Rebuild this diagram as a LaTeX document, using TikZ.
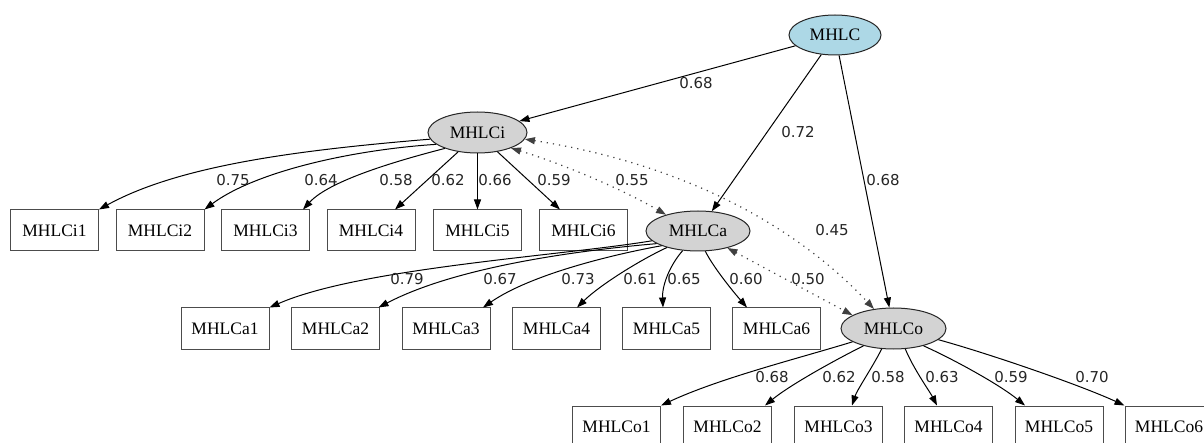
\documentclass[tikz,border=0pt]{standalone}
\usepackage{fontspec}
\setmainfont{Liberation Serif}
\newfontfamily\lblfont{DejaVu Sans}
\usetikzlibrary{arrows.meta,calc,shapes.geometric}
\definecolor{latentgray}{RGB}{211,211,211}
\definecolor{rootblue}{RGB}{173,216,230}

\begin{document}
\begin{tikzpicture}[x=1pt,y=-1pt,
  latent/.style={ellipse, draw=black!85, line width=1pt, fill=latentgray,
    inner sep=0pt, font=\fontsize{17.5}{20}\selectfont},
  root/.style={latent, fill=rootblue},
  item/.style={rectangle, draw=black!70, line width=1pt, fill=white,
    minimum width=88pt, minimum height=41pt, inner sep=0pt,
    font=\fontsize{17.5}{20}\selectfont},
  lbl/.style={font=\lblfont\fontsize{15}{18}\selectfont, text=black!85, inner sep=0pt},
  load/.style={draw=black, line width=1pt, -{Triangle[length=10pt,width=7pt]}},
  cov/.style={draw=black!75, line width=1.2pt, dash pattern=on 1.2pt off 5pt,
    {Triangle[length=10pt,width=7pt]}-{Triangle[length=10pt,width=7pt]}}
]
\useasboundingbox (0,0) rectangle (1204,443);
\clip (0,0) rectangle (1204,443);
\fill[white] (0,0) rectangle (1204,443);

% latent factors
\node[root,   minimum width=92pt,  minimum height=40pt] (MHLC)  at (835,35)      {MHLC};
\node[latent, minimum width=99pt,  minimum height=41pt] (MHLCi) at (477.5,132.5) {MHLCi};
\node[latent, minimum width=104pt, minimum height=40pt] (MHLCa) at (698,231)     {MHLCa};
\node[latent, minimum width=105pt, minimum height=41pt] (MHLCo) at (893.5,328.5) {MHLCo};

% indicators of MHLCi
\begin{scope}[every node/.append style={minimum width=86pt}]
\node[item] (MHLCi1) at (54.5,230.5)  {MHLCi1};
\node[item] (MHLCi2) at (160,230.5)   {MHLCi2};
\node[item] (MHLCi3) at (265.5,230.5) {MHLCi3};
\node[item] (MHLCi4) at (371,230.5)   {MHLCi4};
\node[item] (MHLCi5) at (477.5,230.5) {MHLCi5};
\node[item] (MHLCi6) at (583.5,230.5) {MHLCi6};
\end{scope}

% indicators of MHLCa
\begin{scope}[every node/.append style={minimum width=90pt}]
\node[item] (MHLCa1) at (225,328.5)   {MHLCa1};
\node[item] (MHLCa2) at (335.5,328.5) {MHLCa2};
\node[item] (MHLCa3) at (446,328.5)   {MHLCa3};
\node[item] (MHLCa4) at (556.5,328.5) {MHLCa4};
\node[item] (MHLCa5) at (666.5,328.5) {MHLCa5};
\node[item] (MHLCa6) at (776.5,328.5) {MHLCa6};
\end{scope}

% indicators of MHLCo
\begin{scope}[every node/.append style={minimum width=89pt}]
\node[item] (MHLCo1) at (616.5,426.5) {MHLCo1};
\node[item] (MHLCo2) at (727.5,426.5) {MHLCo2};
\node[item] (MHLCo3) at (838.5,426.5) {MHLCo3};
\node[item] (MHLCo4) at (948.5,426.5) {MHLCo4};
\node[item] (MHLCo5) at (1059,426.5)  {MHLCo5};
\node[item] (MHLCo6) at (1169,426.5)  {MHLCo6};
\end{scope}

% second-order loadings
\draw[load] (MHLC) -- (MHLCi);
\draw[load] (MHLC) -- (MHLCa);
\draw[load] (MHLC) -- (MHLCo);

% MHLCi loadings
\draw[load] (MHLCi.188) .. controls (300,150) and (180,165) .. (MHLCi1.north east);
\draw[load] (MHLCi.196) .. controls (350,150) and (255,172) .. (MHLCi2.north east);
\draw[load] (MHLCi.206) .. controls (400,160) and (330,180) .. ([xshift=37.5pt]MHLCi3.north);
\draw[load] (MHLCi.225) -- ([xshift=24pt]MHLCi4.north);
\draw[load] (MHLCi.south) -- (MHLCi5.north);
\draw[load] (MHLCi.316) -- ([xshift=-23.5pt]MHLCi6.north);

% MHLCa loadings
\draw[load] (MHLCa.192) .. controls (560,256) and (360,268) .. (MHLCa1.north east);
\draw[load] (MHLCa.197) .. controls (560,252) and (450,270) .. ([xshift=43pt]MHLCa2.north);
\draw[load] (MHLCa.202) .. controls (610,255) and (530,275) .. ([xshift=37pt]MHLCa3.north);
\draw[load] (MHLCa.208) .. controls (640,260) and (600,285) .. ([xshift=20.5pt]MHLCa4.north);
\draw[load] (MHLCa.232) .. controls (670,265) and (662,285) .. ([xshift=-3.5pt]MHLCa5.north);
\draw[load] (MHLCa.290) .. controls (712,265) and (730,288) .. ([xshift=-29.5pt]MHLCa6.north);

% MHLCo loadings
\draw[load] (MHLCo.198) .. controls (800,358) and (720,378) .. (MHLCo1.north east);
\draw[load] (MHLCo.210) .. controls (835,360) and (790,385) .. ([xshift=37.5pt]MHLCo2.north);
\draw[load] (MHLCo.240) .. controls (872,368) and (857,390) .. ([xshift=13.5pt]MHLCo3.north);
\draw[load] (MHLCo.300) .. controls (913,368) and (930,392) .. ([xshift=-11.5pt]MHLCo4.north);
\draw[load] (MHLCo.330) .. controls (955,360) and (1000,385) .. ([xshift=-34pt]MHLCo5.north);
\draw[load] (MHLCo.346) .. controls (990,354) and (1080,385) .. (MHLCo6.north west);

% factor covariances
\draw[cov] (MHLCi.335) .. controls (560,163) and (620,188) .. (MHLCa.153);
\draw[cov] (MHLCi.352) .. controls (690,165) and (800,230) .. (MHLCo.135);
\draw[cov] (MHLCa.330) -- (MHLCo.162);

% coefficients
\node[lbl] (c-i)  at (696,83)  {0.68};
\node[lbl] (c-a)  at (798,132) {0.72};
\node[lbl] (c-o)  at (883,180) {0.68};

\node[lbl] (c-i1) at (233,180) {0.75};
\node[lbl] (c-i2) at (321,180) {0.64};
\node[lbl] (c-i3) at (396,180) {0.58};
\node[lbl] (c-i4) at (448,180) {0.62};
\node[lbl] (c-i5) at (495,180) {0.66};
\node[lbl] (c-i6) at (554,180) {0.59};
\node[lbl] (c-ia) at (632,180) {0.55};
\node[lbl] (c-io) at (832,230) {0.45};

\node[lbl] (c-a1) at (407,279) {0.79};
\node[lbl] (c-a2) at (500,279) {0.67};
\node[lbl] (c-a3) at (578,279) {0.73};
\node[lbl] (c-a4) at (640,279) {0.61};
\node[lbl] (c-a5) at (684,279) {0.65};
\node[lbl] (c-a6) at (746,279) {0.60};
\node[lbl] (c-ao) at (808,279) {0.50};

\node[lbl] (c-o1) at (772,377)  {0.68};
\node[lbl] (c-o2) at (839,377)  {0.62};
\node[lbl] (c-o3) at (888,377)  {0.58};
\node[lbl] (c-o4) at (942,377)  {0.63};
\node[lbl] (c-o5) at (1011,377) {0.59};
\node[lbl] (c-o6) at (1092,377) {0.70};
\end{tikzpicture}
\end{document}
